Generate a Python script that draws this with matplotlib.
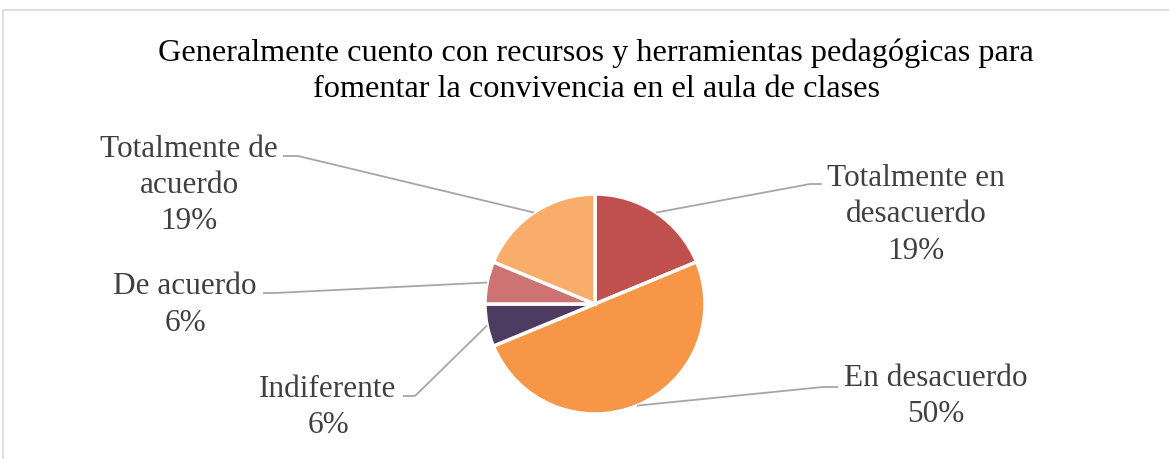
import numpy as np
import matplotlib.pyplot as plt
from matplotlib.patches import Rectangle

# datos (16 docentes)
categorias = ["Totalmente en desacuerdo", "En desacuerdo", "Indiferente",
              "De acuerdo", "Totalmente de acuerdo"]
etiquetas = ["Totalmente en\ndesacuerdo", "En desacuerdo", "Indiferente",
             "De acuerdo", "Totalmente de\nacuerdo"]
valores = [3, 8, 1, 1, 3]
colores = ["#C0504D", "#F79646", "#4D3B62", "#CD7371", "#F9AD6A"]

titulo = ("Generalmente cuento con recursos y herramientas pedagógicas para\n"
          "fomentar la convivencia en el aula de clases")

W, H = 1169, 460
fig = plt.figure(figsize=(W / 100, H / 100), dpi=100)
ax = fig.add_axes([0, 0, 1, 1])

plt.rcParams['font.family'] = ['Liberation Serif', 'DejaVu Serif']

# marco del area del grafico
fig.patches.append(Rectangle((3 / W, -0.1), 1.1, (H - 11) / H + 0.1,
                             transform=fig.transFigure, fill=False,
                             edgecolor="#D9D9D9", linewidth=1.2))

cx, cy, r = 595, H - 305, 110
wedges, _ = ax.pie(valores, colors=colores, startangle=90, counterclock=False,
                   center=(cx, cy), radius=r,
                   wedgeprops=dict(edgecolor="white", linewidth=2.5))

ax.set_xlim(0, W)
ax.set_ylim(0, H)
ax.set_aspect("equal")
ax.axis("off")

# posicion de etiquetas (px desde arriba): texto, codo, fin de linea
layout = [
    ((916, 215), (810, 185), (822, 185)),
    ((936, 396.5), (823, 388), (838, 388)),
    ((328, 407.5), (415, 397), (403, 397)),
    ((185, 305), (275, 294), (263, 294)),
    ((189, 185.5), (298, 157), (283, 157)),
]

total = sum(valores)
for w, lab, v, (tpos, codo, fin) in zip(wedges, etiquetas, valores, layout):
    ang = np.deg2rad((w.theta1 + w.theta2) / 2)
    ax0 = cx + r * np.cos(ang)
    ay0 = cy + r * np.sin(ang)
    ax.plot([ax0, codo[0], fin[0]], [ay0, H - codo[1], H - fin[1]],
            color="#A6A6A6", linewidth=1.3, solid_capstyle="butt")
    pct = round(v / total * 100)
    ax.text(tpos[0], H - tpos[1], f"{lab}\n{pct}%", ha="center", va="center",
            fontsize=22.5, color="#404040", linespacing=1.32)

ax.text(596, H - 71, titulo, ha="center", va="center", fontsize=23.2,
        color="#000000", linespacing=1.3)

fig.savefig("out.png", dpi=100)
